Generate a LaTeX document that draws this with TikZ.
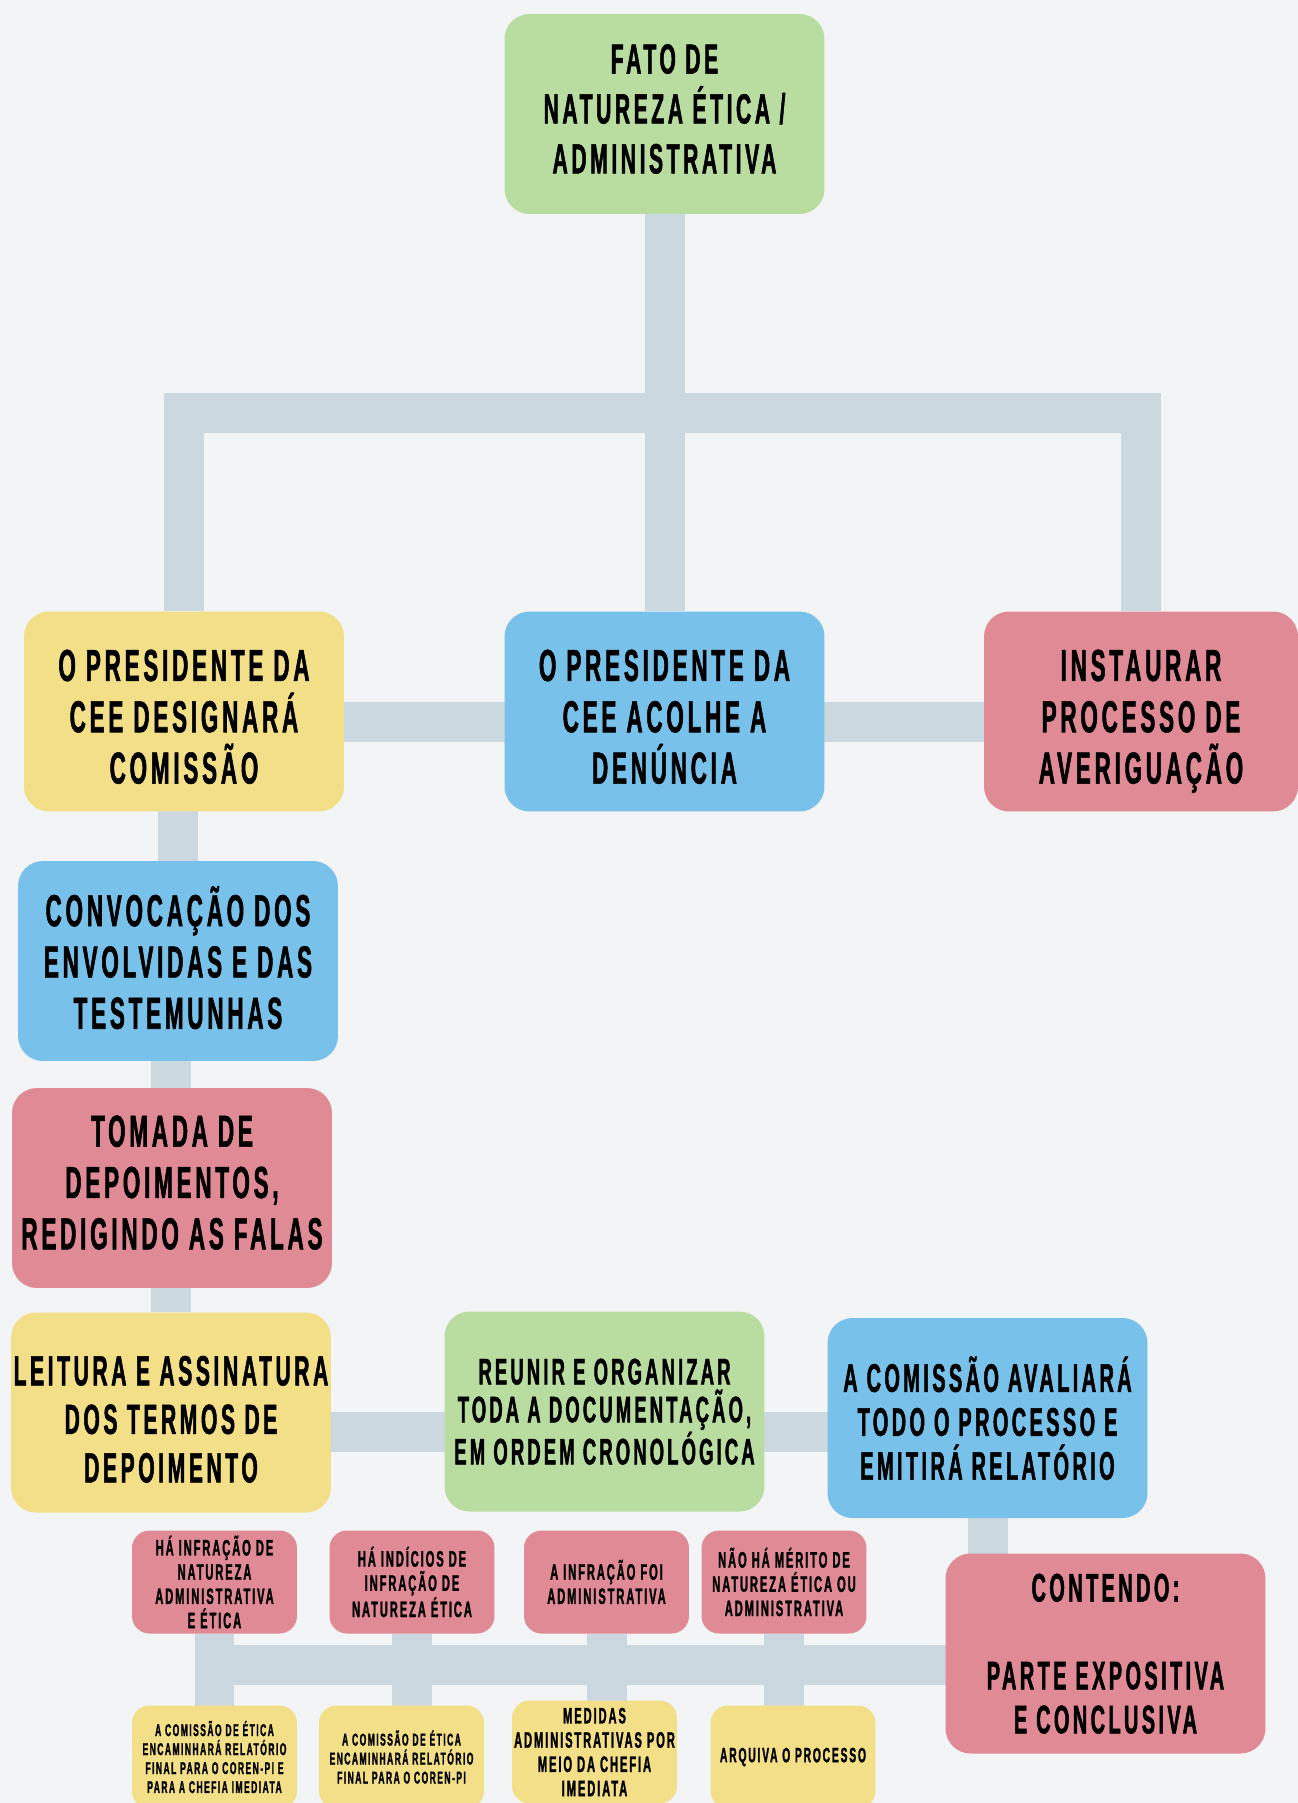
\documentclass[tikz,border=0pt]{standalone}
\usepackage{fontspec}
\setmainfont{Liberation Sans}[FakeStretch=0.5,LetterSpace=8.5,BoldFeatures={FakeBold=1.2}]
\definecolor{verde}{HTML}{B9DCA1}
\definecolor{azul}{HTML}{78C1EA}
\definecolor{amarelo}{HTML}{F3DF87}
\definecolor{rosa}{HTML}{E08A96}
\definecolor{cinza}{HTML}{CBD8DF}
\definecolor{papel}{HTML}{F2F4F5}
\pgfdeclarelayer{fundo}
\pgfdeclarelayer{linhas}
\pgfsetlayers{fundo,linhas,main}

\begin{document}
\begin{tikzpicture}[x=0.02cm,y=-0.02cm,
	caixa/.style={rectangle,rounded corners=0.5cm,align=center,inner sep=0pt,text depth=0pt,minimum width=6.4cm,minimum height=4cm,font=\bfseries\fontsize{25.5}{29.2}\selectfont},
	media/.style={caixa,font=\bfseries\fontsize{22.7}{25}\selectfont},
	mini/.style={rectangle,rounded corners=0.35cm,align=center,inner sep=0pt,minimum width=3.3cm,minimum height=2.06cm,font=\bfseries\fontsize{12.7}{13.8}\selectfont},
	minimo/.style={mini,font=\bfseries\fontsize{9.7}{10.8}\selectfont},
	linha/.style={cinza,line width=0.8cm}]
			\useasboundingbox (0,0) rectangle (1298,1803);
			\clip (0,0) rectangle (1298,1803);
			\node[caixa,fill=verde,text depth=6pt,font=\bfseries\fontsize{24}{28.4}\selectfont] (1) at (664.5,114) {FATO DE\\NATUREZA ÉTICA /\\ADMINISTRATIVA};
			\node[caixa,fill=azul,text height=82pt] (2) at (664.5,711.5) {O PRESIDENTE DA\\CEE ACOLHE A\\DENÚNCIA};
			\node[caixa,fill=amarelo,text height=82pt] (3) at (184,711.5) {O PRESIDENTE DA\\CEE DESIGNARÁ\\COMISSÃO};
			\node[caixa,fill=rosa,text height=82pt,minimum width=6.28cm] (4) at (1141,711.5) {INSTAURAR\\PROCESSO DE\\AVERIGUAÇÃO};
			\node[caixa,fill=azul,text depth=4pt] (5) at (178,961) {CONVOCAÇÃO DOS\\ENVOLVIDAS E DAS\\TESTEMUNHAS};
			\node[caixa,fill=rosa,text depth=6.5pt] (6) at (172,1188) {TOMADA DE\\DEPOIMENTOS,\\REDIGINDO AS FALAS};
			\node[caixa,fill=amarelo,text height=79.5pt,font=\bfseries\fontsize{24}{27.6}\selectfont] (7) at (171,1412.5) {LEITURA E ASSINATURA\\DOS TERMOS DE\\DEPOIMENTO};
			\node[media,fill=verde,font=\bfseries\fontsize{21}{21.6}\selectfont] (8) at (604.5,1411.5) {REUNIR E ORGANIZAR\\TODA A DOCUMENTAÇÃO,\\EM ORDEM CRONOLÓGICA};
			\node[media,fill=azul] (9) at (987.5,1418) {A COMISSÃO AVALIARÁ\\TODO O PROCESSO E\\EMITIRÁ RELATÓRIO};
			\node[media,fill=rosa] (10) at (1105.5,1653.5) {CONTENDO:\\~\\PARTE EXPOSITIVA\\E CONCLUSIVA};
			\node[mini,fill=rosa] (P1) at (214.5,1582) {HÁ INFRAÇÃO DE\\NATUREZA\\ADMINISTRATIVA\\E ÉTICA};
			\node[mini,fill=rosa] (P2) at (412,1582) {HÁ INDÍCIOS DE\\INFRAÇÃO DE\\NATUREZA ÉTICA};
			\node[mini,fill=rosa] (P3) at (606.5,1582) {A INFRAÇÃO FOI\\ADMINISTRATIVA};
			\node[mini,fill=rosa] (P4) at (784,1582) {NÃO HÁ MÉRITO DE\\NATUREZA ÉTICA OU\\ADMINISTRATIVA};
			\node[minimo,fill=amarelo] (Y1) at (214.5,1757) {A COMISSÃO DE ÉTICA\\ENCAMINHARÁ RELATÓRIO\\FINAL PARA O COREN-PI E\\PARA A CHEFIA IMEDIATA};
			\node[minimo,fill=amarelo] (Y2) at (401.5,1757) {A COMISSÃO DE ÉTICA\\ENCAMINHARÁ RELATÓRIO\\FINAL PARA O COREN-PI};
			\node[mini,fill=amarelo] (Y3) at (594.5,1752) {MEDIDAS\\ADMINISTRATIVAS POR\\MEIO DA CHEFIA\\IMEDIATA};
			\node[mini,fill=amarelo,font=\bfseries\fontsize{11.8}{13.8}\selectfont] (Y4) at (793,1757) {ARQUIVA O PROCESSO};
			\coordinate (barra) at (664.5,413);
			\coordinate (b3) at ([yshift=-0.2cm]3.center);
			\coordinate (b7) at ([yshift=-0.38cm]7.center);
			\coordinate (b10) at ([yshift=-0.22cm]10.center);
			\begin{pgfonlayer}{fundo}
			\fill[papel] (0,0) rectangle (1298,1803);
			\end{pgfonlayer}
			\begin{pgfonlayer}{linhas}
			\draw[linha] (1) -- (2);
			\draw[linha] (3.north) |- (barra) -| (4.north);
			\draw[linha] (b3) -- (b3 -| 4);
			\draw[linha] (5) -- (5 |- 3);
			\draw[linha] (7) -- (7 |- 5);
			\draw[linha] (b7) -- (b7 -| 9);
			\draw[linha] (9) -- (9 |- 10);
			\draw[linha] (b10) -- (b10 -| P1);
			\foreach \i in {1,...,4} \draw[linha] (P\i) -- (P\i |- Y\i);
			\end{pgfonlayer}
			\end{tikzpicture}
\end{document}
